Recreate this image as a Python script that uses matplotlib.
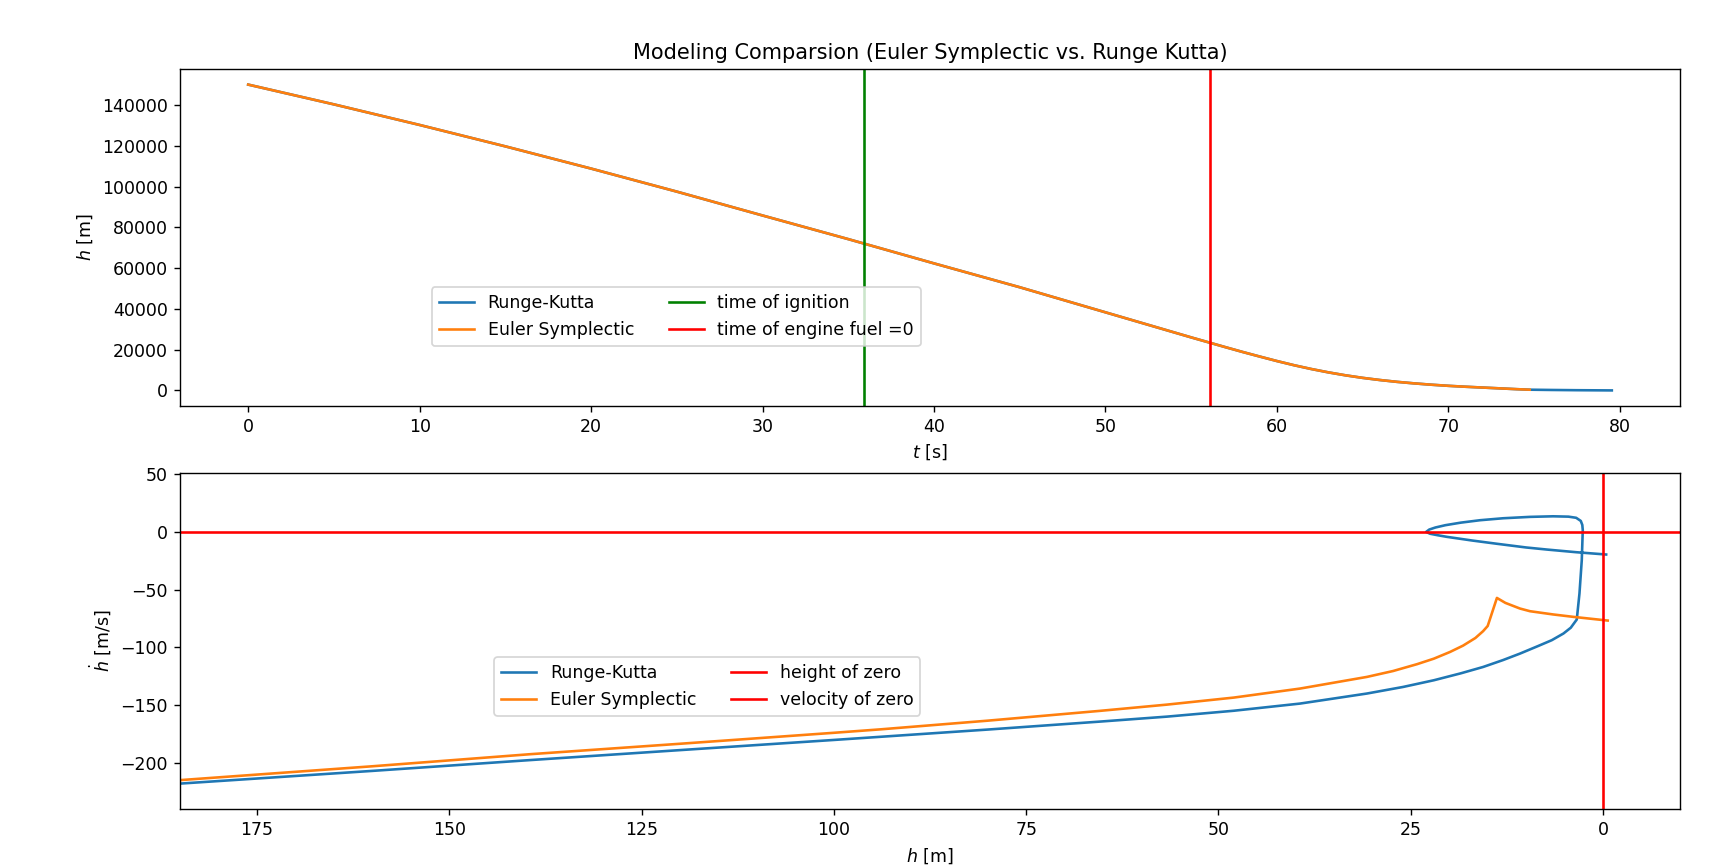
import matplotlib
matplotlib.use("Agg")
import matplotlib.pyplot as plt

# ---- Top panel data: height vs time ----
t_eu = [0, 5, 10, 15, 20, 25, 30, 35, 40, 45, 50, 55, 56, 57, 58, 59, 60, 61, 62, 63, 64, 65, 66, 67,
        68, 69, 70, 71, 72, 73, 74, 74.74]
h_eu = [150000, 140300, 130200, 119700, 108800, 97500, 85800, 74200, 62300, 50600, 38300, 26000,
        23600, 21200, 18850, 16600, 14400, 12350, 10500, 8850, 7400, 6150, 5100, 4200, 3450, 2800,
        2250, 1800, 1400, 1000, 600, 350]
t_rk = t_eu + [76, 77.5, 79.53]
h_rk = h_eu + [220, 100, 0]
t_ignition = 35.89
t_fuel_zero = 56.07

# ---- Bottom panel data: velocity vs height ----
hp_rk = [190, 185, 160, 139.4, 120, 100, 80, 65.4, 56.7, 48, 39.4, 30.7, 26, 22, 18.5, 15.6, 13,
         10.8, 8.5, 6.67, 5.15, 4.2, 3.42, 3.07, 2.77, 2.64, 2.7, 2.9, 3.5, 4.5, 6.5, 9.5, 13, 16,
         18.5, 20.5, 21.8, 22.6, 23.0, 22.5, 21.5, 20.3, 17, 13.8, 10, 7.3, 3.5, -0.4]
vp_rk = [-220, -218, -207, -197.6, -189, -180.2, -171.2, -164.3, -160, -154.9, -148.7, -140, -134.3,
         -128.5, -122.5, -117, -111, -105.4, -99, -93.8, -88, -83, -75.9, -53.4, -24.5, 1.5, 6, 9.5,
         12.2, 13.2, 13.5, 13.0, 11.8, 10.1, 8.0, 5.8, 3.8, 2.0, 0, -1.6, -2.9, -4.3, -7.5, -10.3,
         -13.5, -15.3, -17.6, -19.6]
hp_eu = [190, 185, 160, 139.4, 120, 100, 93.9, 80, 65.4, 56.7, 48, 39.4, 30.7, 27.3, 24.2, 22, 19.9,
         18.2, 16.6, 15.6, 15.0, 13.8, 12.7, 10.8, 9.5, 6.5, 3.86, -0.6]
vp_eu = [-217.4, -215, -203, -192.5, -183.5, -174, -171, -163.5, -155, -149.6, -143.5, -135.7,
         -125.6, -120.5, -114.6, -109.8, -104, -98.5, -91.9, -86, -81.5, -57.2, -61.5, -66.4, -68.7,
         -71.5, -73.6, -76.8]

DPI = 125
fig = plt.figure(figsize=(1712 / DPI, 865 / DPI), dpi=DPI)
ax1 = fig.add_axes([0.10514, 0.53098, 0.87617, 0.3889])
ax2 = fig.add_axes([0.10514, 0.06474, 0.87617, 0.38844])

ax1.plot(t_rk, h_rk, label="Runge-Kutta")
ax1.plot(t_eu, h_eu, label="Euler Symplectic")
ax1.axvline(t_ignition, color="g", label="time of ignition")
ax1.axvline(t_fuel_zero, color="r", label="time of engine fuel =0")
ax1.set_xlabel("$t$ [s]")
ax1.set_ylabel("$h$ [m]")
ax1.set_title("Modeling Comparsion (Euler Symplectic vs. Runge Kutta)")
ax1.legend(ncol=2, loc="lower left", bbox_to_anchor=(0.168, 0.1775), borderaxespad=0)

ax2.plot(hp_rk, vp_rk, label="Runge-Kutta")
ax2.plot(hp_eu, vp_eu, label="Euler Symplectic")
ax2.axvline(0, color="r", label="height of zero")
ax2.axhline(0, color="r", label="velocity of zero")
ax2.set_xlim(185, -10)
ax2.set_ylim(-240, 51)
ax2.set_xlabel("$h$ [m]")
ax2.set_ylabel("$\\dot{h}$ [m/s]")
ax2.legend(ncol=2, loc="lower left", bbox_to_anchor=(0.2095, 0.2777), borderaxespad=0)

fig.savefig("out.png", dpi=DPI)
